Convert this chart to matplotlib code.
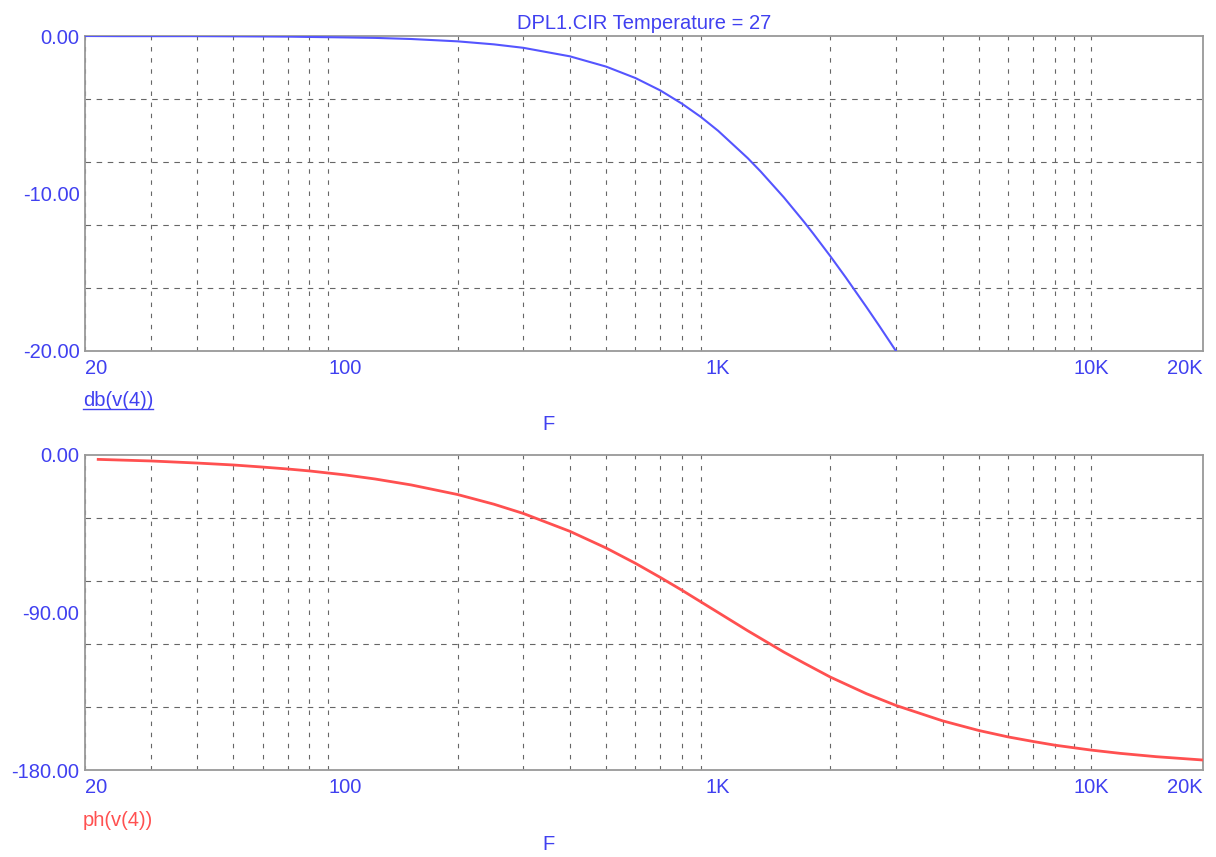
import matplotlib
matplotlib.use('Agg')
import matplotlib.pyplot as plt
from matplotlib.lines import Line2D
from matplotlib.ticker import FixedLocator, NullFormatter

# magnitude trace (trace stops at -20 dB)
freq_db = [20, 25, 30, 40, 50, 60, 70, 80, 100, 120, 150, 200, 250, 300, 400,
           500, 600, 700, 800, 900, 1000, 1200, 1300, 1500, 1700, 1800, 2000,
           2200, 2500, 2700, 3000]
db_v4 = [0.0, -0.01, -0.01, -0.01, -0.02, -0.03, -0.04, -0.06, -0.09, -0.12,
         -0.19, -0.34, -0.53, -0.75, -1.29, -1.94, -2.67, -3.46, -4.30, -5.15,
         -6.02, -7.75, -8.60, -10.24, -11.80, -12.55, -13.98, -15.33, -17.21,
         -18.37, -20.0]

# phase trace
freq_ph = [21.7, 25, 30, 40, 50, 60, 70, 80, 100, 120, 150, 200, 250, 300, 400,
           500, 600, 700, 800, 1000, 1200, 1500, 1700, 2000, 2500, 3000, 4000,
           5000, 6000, 7000, 8000, 10000, 12000, 15000, 20000]
ph_v4 = [-2.5, -2.9, -3.4, -4.6, -5.7, -6.9, -8.0, -9.1, -11.4, -13.7, -17.1,
         -22.6, -28.1, -33.4, -43.6, -53.1, -61.9, -70.0, -77.3, -90.0, -100.4,
         -112.6, -118.9, -126.9, -136.4, -143.1, -151.9, -157.4, -161.1,
         -163.7, -165.8, -168.6, -170.5, -172.4, -174.3]

x_ticks = [20, 100, 1000, 10000, 20000]
x_labels = ['20', '100', '1K', '10K', '20K']
minor_x = [m * 10 ** d for d in (1, 2, 3) for m in range(2, 10)] + [10000]

W, H = 1216, 857
BLUE_TXT = '#4040f0'
BLUE = '#5555ff'
RED = '#ff5050'
GRID = '#666666'

plt.rcParams['font.family'] = ['Liberation Sans', 'DejaVu Sans']
fig = plt.figure(figsize=(W / 100, H / 100), dpi=100)


def make_axes(top, bottom):
    ax = fig.add_axes([85 / W, 1 - bottom / H, (1203 - 85) / W, (bottom - top) / H])
    ax.set_xscale('log')
    ax.set_xlim(20, 20000)
    ax.xaxis.set_major_locator(FixedLocator(x_ticks))
    ax.set_xticklabels(x_labels)
    ax.xaxis.set_minor_locator(FixedLocator(minor_x))
    ax.xaxis.set_minor_formatter(NullFormatter())
    ax.tick_params(which='both', length=0, labelsize=14.5, labelcolor=BLUE_TXT)
    ax.tick_params(axis='x', pad=6)
    ax.tick_params(axis='y', pad=4)
    labels = ax.get_xticklabels()
    labels[0].set_horizontalalignment('left')
    labels[-1].set_horizontalalignment('right')
    for s in ax.spines.values():
        s.set_color('#999999')
        s.set_linewidth(1.3)
    ax.grid(False)
    for f in minor_x:
        ax.axvline(f, color=GRID, lw=0.8, ls=(0, (4, 6)), zorder=1)
    return ax


# magnitude panel
ax1 = make_axes(36, 351)
ax1.set_ylim(-20, 0)
ax1.set_yticks([0, -10, -20])
ax1.set_yticklabels(['0.00', '-10.00', '-20.00'])
for yv in [-4, -8, -12, -16]:
    ax1.axhline(yv, color=GRID, lw=0.8, ls=(0, (5, 5)), zorder=1)
ax1.plot(freq_db, db_v4, color=BLUE, lw=1.5, zorder=3, clip_on=True)
ax1.set_title('DPL1.CIR Temperature = 27', color=BLUE_TXT, fontsize=14.5, pad=5)

# phase panel
ax2 = make_axes(455, 770)
ax2.set_ylim(-180, 0)
ax2.set_yticks([0, -90, -180])
ax2.set_yticklabels(['0.00', '-90.00', '-180.00'])
for yv in [-36, -72, -108, -144]:
    ax2.axhline(yv, color=GRID, lw=0.8, ls=(0, (5, 5)), zorder=1)
ax2.plot(freq_ph, ph_v4, color=RED, lw=2.0, zorder=3)

# trace names and axis names
t1 = fig.text(83 / W, 1 - 401 / H, 'db(v(4))', color=BLUE_TXT, fontsize=14.5,
              ha='left', va='center')
fig.text(548 / W, 1 - 425 / H, 'F', color=BLUE_TXT, fontsize=14.5, ha='center', va='center')
fig.text(83 / W, 1 - 820 / H, 'ph(v(4))', color=RED, fontsize=14.5, ha='left', va='center')
fig.text(548 / W, 1 - 845 / H, 'F', color=BLUE_TXT, fontsize=14.5, ha='center', va='center')

# underline the magnitude trace name
fig.canvas.draw()
bb = t1.get_window_extent().transformed(fig.transFigure.inverted())
fig.add_artist(Line2D([bb.x0, bb.x1], [bb.y0 + 0.002, bb.y0 + 0.002],
                      color=BLUE_TXT, lw=1.0, transform=fig.transFigure))

fig.savefig('out.png', dpi=100)
